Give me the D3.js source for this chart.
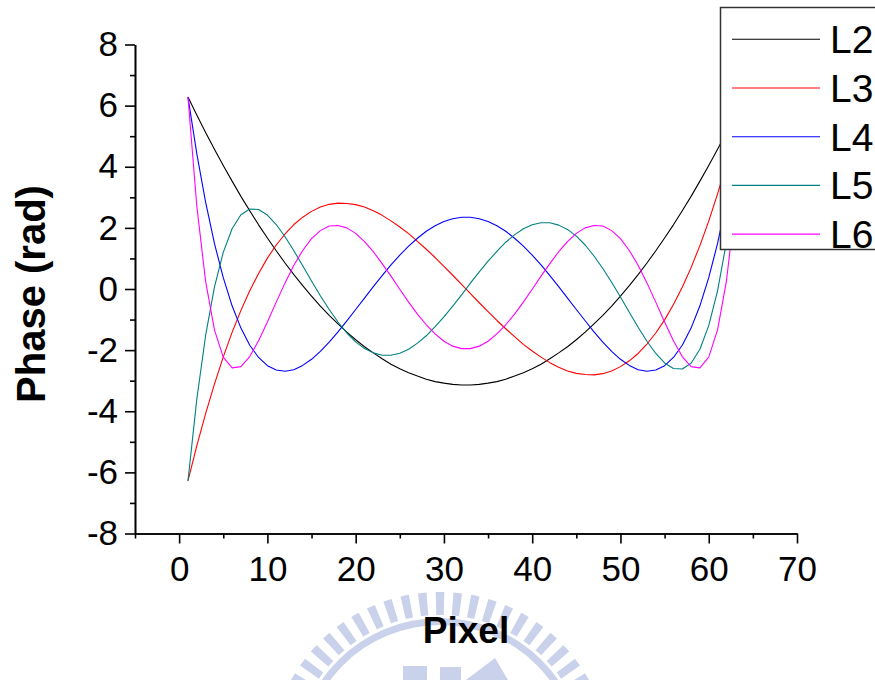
<!DOCTYPE html>
<html>
<head>
<meta charset="utf-8">
<script src="https://cdn.jsdelivr.net/npm/d3@7"></script>
<style>
  body { margin: 0; background: #fff; }
  svg { display: block; }
  text { font-family: "Liberation Sans", Arial, Helvetica, sans-serif; }
</style>
</head>
<body>
<svg id="chart" width="875" height="680"></svg>
<script>
// Pixel index along the aperture
const pixels = [1,2,3,4,5,6,7,8,9,10,11,12,13,14,15,16,17,18,19,20,21,22,23,24,25,26,27,28,29,30,31,32,
                33,34,35,36,37,38,39,40,41,42,43,44,45,46,47,48,49,50,51,52,53,54,55,56,57,58,59,60,61,62,63,64];

// Phase profile (rad) of each mode
const phaseL2 = [6.28,5.69,5.12,4.57,4.04,3.53,3.03,2.56,2.10,1.67,1.25,0.85,0.47,0.11,-0.23,-0.56,
                 -0.86,-1.14,-1.41,-1.66,-1.89,-2.09,-2.28,-2.46,-2.61,-2.74,-2.85,-2.95,-3.03,-3.08,-3.12,-3.14,
                 -3.14,-3.12,-3.08,-3.03,-2.95,-2.85,-2.74,-2.61,-2.46,-2.28,-2.09,-1.89,-1.66,-1.41,-1.14,-0.86,
                 -0.56,-0.23,0.11,0.47,0.85,1.25,1.67,2.10,2.56,3.03,3.53,4.04,4.57,5.12,5.69,6.28];
const phaseL3 = [-6.28,-5.13,-4.08,-3.11,-2.22,-1.42,-0.70,-0.06,0.51,1.01,1.44,1.80,2.11,2.35,2.54,2.68,
                 2.77,2.81,2.80,2.76,2.68,2.56,2.41,2.23,2.03,1.81,1.56,1.30,1.03,0.74,0.45,0.15,
                 -0.15,-0.45,-0.74,-1.03,-1.30,-1.56,-1.81,-2.03,-2.23,-2.41,-2.56,-2.68,-2.76,-2.80,-2.81,-2.77,
                 -2.68,-2.54,-2.35,-2.11,-1.80,-1.44,-1.01,-0.51,0.06,0.70,1.42,2.22,3.11,4.08,5.13,6.28];
const phaseL4 = [6.28,4.43,2.84,1.49,0.37,-0.55,-1.28,-1.84,-2.24,-2.51,-2.65,-2.69,-2.64,-2.50,-2.30,-2.04,
                 -1.74,-1.40,-1.04,-0.67,-0.30,0.08,0.44,0.79,1.11,1.40,1.66,1.89,2.07,2.21,2.30,2.35,
                 2.35,2.30,2.21,2.07,1.89,1.66,1.40,1.11,0.79,0.44,0.08,-0.30,-0.67,-1.04,-1.40,-1.74,
                 -2.04,-2.30,-2.50,-2.64,-2.69,-2.65,-2.51,-2.24,-1.84,-1.28,-0.55,0.37,1.49,2.84,4.43,6.28];
const phaseL5 = [-6.28,-3.61,-1.52,0.06,1.20,1.97,2.43,2.62,2.60,2.42,2.11,1.71,1.25,0.76,0.26,-0.22,
                 -0.67,-1.08,-1.44,-1.73,-1.95,-2.09,-2.17,-2.17,-2.10,-1.97,-1.77,-1.53,-1.23,-0.91,-0.56,-0.19,
                 0.19,0.56,0.91,1.23,1.53,1.77,1.97,2.10,2.17,2.17,2.09,1.95,1.73,1.44,1.08,0.67,
                 0.22,-0.26,-0.76,-1.25,-1.71,-2.11,-2.42,-2.60,-2.62,-2.43,-1.97,-1.20,-0.06,1.52,3.61,6.28];
const phaseL6 = [6.28,2.72,0.25,-1.34,-2.23,-2.58,-2.54,-2.21,-1.69,-1.08,-0.43,0.20,0.78,1.26,1.65,1.91,
                 2.06,2.08,2.00,1.82,1.55,1.22,0.83,0.42,-0.01,-0.43,-0.82,-1.17,-1.47,-1.71,-1.87,-1.95,
                 -1.95,-1.87,-1.71,-1.47,-1.17,-0.82,-0.43,-0.01,0.42,0.83,1.22,1.55,1.82,2.00,2.08,2.06,
                 1.91,1.65,1.26,0.78,0.20,-0.43,-1.08,-1.69,-2.21,-2.54,-2.58,-2.23,-1.34,0.25,2.72,6.28];

const seriesNames  = ["L2", "L3", "L4", "L5", "L6"];
const seriesValues = [phaseL2, phaseL3, phaseL4, phaseL5, phaseL6];
const seriesColors = ["#000000", "#ff0000", "#0000ff", "#008080", "#ff00ff"];

const xMajorTicks = [0, 10, 20, 30, 40, 50, 60, 70];
const xMinorTicks = [-5, 5, 15, 25, 35, 45, 55, 65];
const yMajorTicks = [-8, -6, -4, -2, 0, 2, 4, 6, 8];
const yMinorTicks = [-7, -5, -3, -1, 1, 3, 5, 7];

const svg = d3.select("#chart");
svg.append("rect").attr("width", 875).attr("height", 680).attr("fill", "#fff");

const x = d3.scaleLinear().domain([-5, 70]).range([135, 797]);
const y = d3.scaleLinear().domain([-8, 8]).range([533.5, 44.5]);

// Faint university emblem behind the axis title
const emblem = svg.append("g").attr("fill", "#c9d2ea");
const ecx = 440, ecy = 762;
const barArc = d3.arc().innerRadius(147).outerRadius(170);
for (let a = -180; a < 180; a += 6) {
  const r0 = (a - 1.45) * Math.PI / 180, r1 = (a + 1.45) * Math.PI / 180;
  emblem.append("path")
    .attr("transform", `translate(${ecx},${ecy})`)
    .attr("d", barArc({startAngle: r0, endAngle: r1}));
}
emblem.append("path")
  .attr("transform", `translate(${ecx},${ecy})`)
  .attr("d", d3.arc().innerRadius(137).outerRadius(144)({startAngle: 0, endAngle: 2 * Math.PI}));
emblem.append("rect").attr("x", 403).attr("y", 666).attr("width", 24).attr("height", 14);
emblem.append("rect").attr("x", 440).attr("y", 667).attr("width", 21).attr("height", 13);
emblem.append("path").attr("d", "M466,680 L495,658 L508,680 Z");

// Axes
function styleAxis(g) {
  g.attr("font-size", null).attr("font-family", null);
  g.select(".domain").attr("stroke", "#000").attr("stroke-width", 1.6);
  g.selectAll(".tick line").attr("stroke", "#000").attr("stroke-width", 1.6);
  g.selectAll(".tick text").attr("fill", "#000").style("font-size", "35px");
}

svg.append("g").attr("transform", `translate(0,${y(-8)})`)
  .call(d3.axisBottom(x).tickValues(xMinorTicks).tickSize(5).tickSizeOuter(0).tickFormat(""))
  .call(styleAxis);
svg.append("g").attr("transform", `translate(0,${y(-8)})`)
  .call(d3.axisBottom(x).tickValues(xMajorTicks).tickSize(10).tickPadding(13).tickSizeOuter(0))
  .call(styleAxis);

svg.append("g").attr("transform", `translate(${x(-5)},0)`)
  .call(d3.axisLeft(y).tickValues(yMinorTicks).tickSize(5).tickSizeOuter(0).tickFormat(""))
  .call(styleAxis);
svg.append("g").attr("transform", `translate(${x(-5)},0)`)
  .call(d3.axisLeft(y).tickValues(yMajorTicks).tickSize(10).tickPadding(7).tickSizeOuter(0)
        .tickFormat(d => d < 0 ? "-" + Math.abs(d) : String(d)))
  .call(styleAxis);

// Axis titles
svg.append("text")
  .attr("x", (x.range()[0] + x.range()[1]) / 2).attr("y", 643)
  .attr("text-anchor", "middle").attr("font-weight", "bold").style("font-size", "37px")
  .text("Pixel");
svg.append("text")
  .attr("transform", "translate(45,294) rotate(-90)")
  .attr("text-anchor", "middle").attr("font-weight", "bold").style("font-size", "40px")
  .text("Phase (rad)");

// Phase curves
const line = d3.line().x((d, i) => x(pixels[i])).y(d => y(d));
seriesValues.forEach((vals, k) => {
  svg.append("path")
    .attr("d", line(vals))
    .attr("fill", "none")
    .attr("stroke", seriesColors[k])
    .attr("stroke-width", 1.1)
    .attr("stroke-linejoin", "round");
});

// Legend
const legend = svg.append("g");
legend.append("rect")
  .attr("x", 720.5).attr("y", 7.5).attr("width", 200).attr("height", 242)
  .attr("fill", "#fff").attr("stroke", "#333").attr("stroke-width", 1.5);
seriesNames.forEach((name, k) => {
  const baseY = 53.3 + k * 48.7;
  legend.append("line")
    .attr("x1", 732).attr("x2", 820).attr("y1", baseY - 14).attr("y2", baseY - 14)
    .attr("stroke", seriesColors[k]).attr("stroke-width", 1.1);
  legend.append("text")
    .attr("x", 830).attr("y", baseY)
    .style("font-size", "39px").attr("fill", "#000")
    .text(name);
});
</script>
</body>
</html>
